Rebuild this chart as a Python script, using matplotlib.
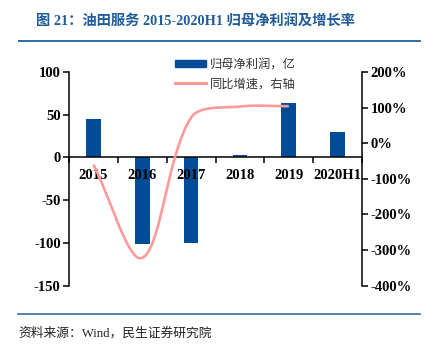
import numpy as np
import matplotlib
matplotlib.use("Agg")
import matplotlib.pyplot as plt
from matplotlib.lines import Line2D
from matplotlib.patches import Patch

plt.rcParams["axes.unicode_minus"] = False

# data
categories = ["2015", "2016", "2017", "2018", "2019", "2020H1"]
profit = [45, -101, -100, 2.8, 64, 30]          # 归母净利润, 亿
growth = [-60, -322, 72, 103, 104]              # 同比增速 %, 2015-2019

BLUE = "#004C97"
PINK = "#FF9A9A"
LINE_BLUE = "#2E6DA8"
SERIF = ["Liberation Serif", "Noto Sans CJK SC"]
CJK = ["Noto Sans CJK SC", "DejaVu Sans"]


def smooth(a, x, y, n=40):
    # smoothed line like excel: bezier pieces, handles scaled by pixel segment length
    pts = a.transData.transform(np.column_stack([x, y]))
    d = np.hypot(*np.diff(pts, axis=0).T)
    out = [pts[:1]]
    t = np.linspace(0, 1, n)[1:, None]
    for i in range(len(pts) - 1):
        p0, p1 = pts[i], pts[i + 1]
        if i == 0:
            c1 = p0 + (p1 - p0) / 3
        else:
            c1 = p0 + (p1 - pts[i - 1]) * d[i] / (d[i - 1] + d[i]) / 3
        if i == len(pts) - 2:
            c2 = p1 - (p1 - p0) / 3
        else:
            c2 = p1 - (pts[i + 2] - p0) * d[i] / (d[i] + d[i + 1]) / 3
        seg = ((1 - t) ** 3 * p0 + 3 * (1 - t) ** 2 * t * c1
               + 3 * (1 - t) * t ** 2 * c2 + t ** 3 * p1)
        out.append(seg)
    xy = a.transData.inverted().transform(np.vstack(out))
    return xy[:, 0], xy[:, 1]


fig = plt.figure(figsize=(4.29, 3.48), dpi=100)
ax = fig.add_axes([69 / 429, 1 - 285.7 / 348, (362 - 69) / 429, (285.7 - 72) / 348])
ax2 = ax.twinx()

pos = np.arange(len(categories)) + 0.5
ax.bar(pos, profit, width=0.3, color=BLUE, zorder=2)

ax.set_xlim(0, 6)
ax.set_ylim(-150, 100)
ax.set_yticks([100, 50, 0, -50, -100, -150])
ax2.set_xlim(0, 6)
ax2.set_ylim(-400, 200)
ax2.set_yticks([200, 100, 0, -100, -200, -300, -400])
ax2.set_yticklabels(["%d%%" % v for v in [200, 100, 0, -100, -200, -300, -400]])

gx, gy = smooth(ax2, pos[:len(growth)], growth)
ax2.plot(gx, gy, color=PINK, lw=1.9, solid_capstyle="butt", zorder=3)

for a in (ax, ax2):
    a.spines["top"].set_visible(False)
    for lab in a.get_yticklabels():
        lab.set_fontfamily(SERIF)
        lab.set_fontweight("bold")
        lab.set_fontsize(10.5)
    for s in a.spines.values():
        s.set_linewidth(1.1)
    a.tick_params(axis="y", length=4, width=1.1, pad=2)
ax.spines["right"].set_visible(False)
ax2.spines["left"].set_visible(False)
ax2.spines["bottom"].set_visible(False)
ax.spines["bottom"].set_position(("data", 0))
ax.set_axisbelow(False)

# x ticks at boundaries, labels at centers
ax.set_xticks(np.arange(0, 7))
ax.set_xticklabels([])
ax.tick_params(axis="x", which="major", length=4, width=1.1, direction="out")
ax.set_xticks(pos, minor=True)
ax.set_xticklabels(categories, minor=True, fontfamily=SERIF, fontweight="bold", fontsize=10.5)
ax.tick_params(axis="x", which="minor", length=0, pad=8)

# legend
handles = [Patch(color=BLUE), Line2D([], [], color=PINK, lw=2.2)]
fig.legend(handles, ["归母净利润，亿", "同比增速，右轴"], loc="upper left",
           bbox_to_anchor=(169 / 429, 1 - 52 / 348), frameon=False,
           prop={"family": CJK, "size": 8.8}, labelcolor="#333333", handlelength=2.5,
           handleheight=0.45, handletextpad=0.35, labelspacing=0.5, borderpad=0)

# title, rules, source
fig.text(36 / 429, 1 - 22 / 348, "图 21：油田服务 2015-2020H1 归母净利润及增长率",
         fontfamily=SERIF, fontweight="bold", fontsize=10.3, color="#1F5C99", va="center")
fig.add_artist(Line2D([19 / 429, 420 / 429], [1 - 41 / 348] * 2, color=LINE_BLUE, lw=1.4))
fig.add_artist(Line2D([18 / 429, 420 / 429], [1 - 314.3 / 348] * 2, color=LINE_BLUE, lw=1.2))
fig.text(18 / 429, 1 - 333 / 348, "资料来源：Wind，民生证券研究院",
         fontfamily=SERIF, fontsize=9.2, color="#222222", va="center")

fig.savefig("out.png", dpi=100)
